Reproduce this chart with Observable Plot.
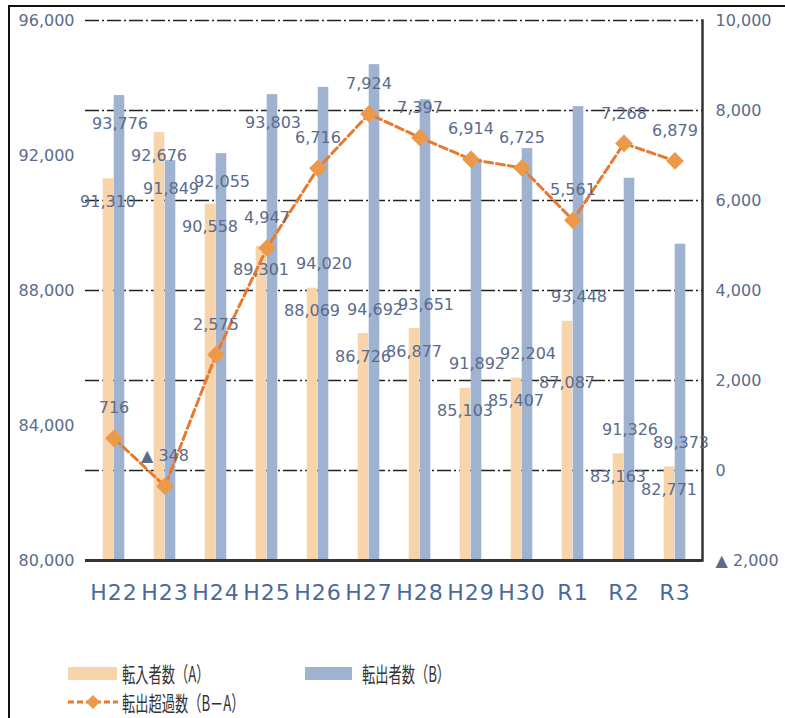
<!DOCTYPE html>
<html><head><meta charset="utf-8">
<script src="https://cdn.jsdelivr.net/npm/d3@7"></script>
<script src="https://cdn.jsdelivr.net/npm/@observablehq/plot@0.6"></script>
<style>
html,body{margin:0;padding:0;background:#fff;width:785px;height:718px;overflow:hidden;position:relative}
#frame{position:absolute;left:8px;top:5px;width:900px;height:900px;border:2px solid #111;box-sizing:border-box;pointer-events:none}
#chart{position:absolute;left:0;top:0}
.lg{position:absolute;font-family:"Noto Sans CJK JP";font-size:21px;color:#333;line-height:21px;transform:scaleX(0.63);transform-origin:left center;white-space:nowrap}
.sw{position:absolute}
</style></head>
<body>
<div id="chart"></div>
<div class="sw" style="left:68px;top:667px;width:49px;height:13px;background:#f8d4ab"></div>
<div class="lg" style="left:122px;top:663px">転入者数（A）</div>
<div class="sw" style="left:305px;top:667px;width:47px;height:13px;background:#9fb3d0"></div>
<div class="lg" style="left:362px;top:663px">転出者数（B）</div>
<svg class="sw" style="left:66px;top:693px" width="54" height="18">
  <line x1="2" y1="9" x2="52" y2="9" stroke="#e8792e" stroke-width="3" stroke-dasharray="6,3"/>
  <path d="M27,2 L34,9 L27,16 L20,9 Z" fill="#ec9a4a"/>
</svg>
<div class="lg" style="left:122px;top:692px">転出超過数（B－A）</div>
<div id="frame"></div>
<script>
const years = ["H22","H23","H24","H25","H26","H27","H28","H29","H30","R1","R2","R3"];
const tennyu = [91310, 92676, 90558, 89301, 88069, 86726, 86877, 85103, 85407, 87087, 83163, 82771];
const tenshutsu = [93776, 91849, 92055, 93803, 94020, 94692, 93651, 91892, 92204, 93448, 91326, 89373];
const netOut = [716, -348, 2575, 4947, 6716, 7924, 7397, 6914, 6725, 5561, 7268, 6879];
const leftTicks = [80000, 84000, 88000, 92000, 96000];
const rightTicks = [-2000, 0, 2000, 4000, 6000, 8000, 10000];

const toLeft = v => 80000 + (v + 2000) * 16000 / 12000;
const fromLeft = v => Math.round((v - 80000) * 12000 / 16000 - 2000);
const fmt = d3.format(",");
const lab = v => v < 0 ? "▲ " + fmt(-v) : fmt(v);

const rows = years.map((y, i) => ({year: y, i, a: tennyu[i], b: tenshutsu[i], n: netOut[i], nl: toLeft(netOut[i])}));
const txt = "#5a6b8c";

// px -> value units on the left axis (540px for 16,000)
const pxU = 16000 / 540;
// blue labels: under the blue bar top for the first years, above the orange bar afterwards (as in the source)
const blueAbove = d => d.i >= 4;
// an orange label that would collide with the previous year's blue label is pushed further down
const bump = d => d.i > 4 && blueAbove(rows[d.i - 1]) && Math.abs((d.a - rows[d.i - 1].a) / pxU - 47) < 18;

const chart = Plot.plot({
  width: 785, height: 612,
  marginLeft: 85, marginRight: 83, marginTop: 20, marginBottom: 52,
  style: {fontFamily: "DejaVu Sans", fontSize: "16px", background: "transparent", color: txt},
  x: {domain: years, padding: 0, label: null, axis: null},
  y: {domain: [80000, 96000], label: null, axis: null},
  marks: [
    Plot.ruleY(rightTicks.slice(1).map(toLeft), {stroke: "#222", strokeWidth: 1.5, strokeDasharray: "14,3,2,3"}),
    Plot.barY(rows, {x: "year", y1: () => 80000, y2: "a", fill: "#f8d4ab", insetLeft: 14.7, insetRight: 25.7}),
    Plot.barY(rows, {x: "year", y1: () => 80000, y2: "b", fill: "#9fb3d0", insetLeft: 25.7, insetRight: 14.7}),
    Plot.ruleY([80000], {stroke: "#333", strokeWidth: 3}),
    Plot.frame({anchor: "right", stroke: "#333", strokeWidth: 2.5}),
    Plot.axisY(leftTicks, {anchor: "left", tickSize: 0, tickPadding: 11, tickFormat: fmt, fill: txt, fontSize: 16, label: null}),
    Plot.axisY(rightTicks.map(toLeft), {anchor: "right", tickSize: 0, tickPadding: 13, tickFormat: v => lab(fromLeft(v)), fill: txt, fontSize: 16, label: null}),
    Plot.axisX(years, {anchor: "bottom", tickSize: 0, tickPadding: 24, fill: "#4a6a9c", fontSize: 22, label: null}),
    Plot.line(rows, {x: "year", y: "nl", stroke: "#e8792e", strokeWidth: 3, strokeDasharray: "8,4"}),
    Plot.dot(rows, {x: "year", y: "nl", symbol: d3.symbolDiamond2, r: 8, fill: "#ec9a4a", stroke: "none"}),
    // 転入者数 labels
    Plot.text(rows, {filter: d => !bump(d), x: "year", y: "a", text: d => fmt(d.a), dx: -6, dy: 23, fill: txt, fontSize: 16}),
    Plot.text(rows, {filter: d => bump(d), x: "year", y: "a", text: d => fmt(d.a), dx: -6, dy: 62, fill: txt, fontSize: 16}),
    // 転出者数 labels
    Plot.text(rows, {filter: d => !blueAbove(d), x: "year", y: "b", text: d => fmt(d.b), dx: 6, dy: 28, fill: txt, fontSize: 16}),
    Plot.text(rows, {filter: d => blueAbove(d), x: "year", y: "a", text: d => fmt(d.b), dx: 6, dy: -24, fill: txt, fontSize: 16}),
    // 転出超過数 labels above the markers
    Plot.text(rows, {x: "year", y: "nl", text: d => lab(d.n), dy: -30, fill: txt, fontSize: 16})
  ]
});
d3.select(chart).selectAll("g[aria-label='x-axis tick label'] text").style("letter-spacing", "1px");
document.getElementById("chart").appendChild(chart);
</script>
</body></html>
